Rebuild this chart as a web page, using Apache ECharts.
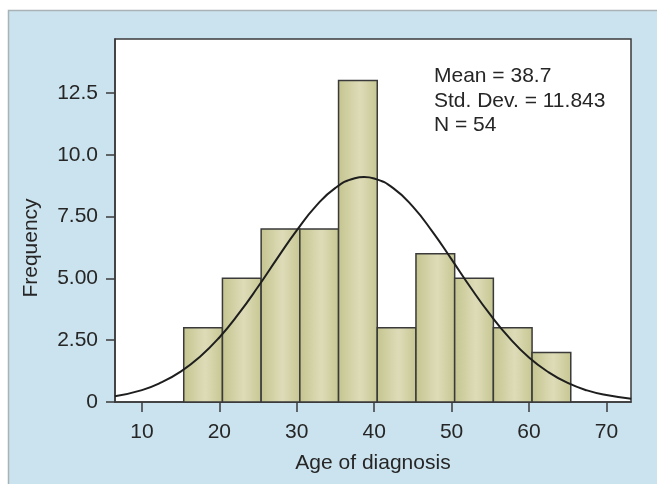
<!DOCTYPE html>
<html>
<head>
<meta charset="utf-8">
<script src="https://cdn.jsdelivr.net/npm/echarts@6/dist/echarts.min.js"></script>
<style>
html,body{margin:0;padding:0;background:#fff;}
#c{width:657px;height:484px;}
</style>
</head>
<body>
<div id="c"></div>
<script>
// Histogram bins (age of diagnosis) and frequencies
const binStarts = [15.4, 20.4, 25.4, 30.4, 35.4, 40.4, 45.4, 50.4, 55.4, 60.4];
const binEnds   = [20.4, 25.4, 30.4, 35.4, 40.4, 45.4, 50.4, 55.4, 60.4, 65.4];
const counts    = [3, 5, 7, 7, 13, 3, 6, 5, 3, 2];

// Fitted normal curve
const curveAges = [6.5, 10, 12.5, 15, 17.5, 20, 22.5, 25, 27.5, 30, 32.5, 35, 37.5, 38.7, 40, 42.5, 45, 47.5, 50, 52.5, 55, 57.5, 60, 62.5, 65, 67.5, 70, 73.2];
const curveFreq = [0.23, 0.48, 0.79, 1.23, 1.83, 2.61, 3.57, 4.66, 5.82, 6.94, 7.93, 8.66, 9.05, 9.10, 9.04, 8.64, 7.90, 6.90, 5.77, 4.61, 3.53, 2.58, 1.80, 1.21, 0.77, 0.47, 0.28, 0.13];

// Axis ticks
const xTickValues = [10, 20, 30, 40, 50, 60, 70];
const yTickValues = [0, 2.5, 5, 7.5, 10, 12.5];
const yTickLabels = ['0', '2.50', '5.00', '7.50', '10.0', '12.5'];

const statsLines = ['Mean = 38.7', 'Std. Dev. = 11.843', 'N = 54'];

const FONT = "'Liberation Sans', Arial, Helvetica, sans-serif";
const TXT = '#262626';
const chart = echarts.init(document.getElementById('c'), null, {renderer: 'canvas'});

const barData = binStarts.map((s, i) => [s, binEnds[i], counts[i]]);
const curveData = curveAges.map((a, i) => [a, curveFreq[i]]);

const barFill = new echarts.graphic.LinearGradient(0, 0, 1, 0, [
  {offset: 0, color: '#c4c48f'},
  {offset: 0.55, color: '#dedcb8'},
  {offset: 1, color: '#c6c692'}
]);

chart.setOption({
  animation: false,
  backgroundColor: '#ffffff',
  graphic: [
    {type: 'rect', z: -10, silent: true,
     shape: {x: 8.5, y: 10.5, width: 660, height: 480},
     style: {fill: '#cbe3ee', stroke: '#a9b2b6', lineWidth: 1.5}},
    {type: 'text', x: 31, y: 248, rotation: Math.PI / 2, z: 10,
     style: {text: 'Frequency', font: '21px ' + FONT, fill: TXT,
             textAlign: 'center', textVerticalAlign: 'middle'}},
    {type: 'text', left: 434, top: 64, z: 10,
     style: {text: statsLines.join('\n'), font: '21px ' + FONT, fill: TXT,
             lineHeight: 24.5}}
  ],
  grid: {
    left: 115, top: 39, right: 26, bottom: 82,
    show: true, backgroundColor: '#ffffff', borderColor: '#3a3a3a', borderWidth: 1.5
  },
  xAxis: {
    type: 'value', min: 6.52, max: 73.18,
    name: 'Age of diagnosis', nameLocation: 'middle', nameGap: 51,
    nameTextStyle: {fontSize: 21, fontFamily: FONT, color: TXT},
    axisLine: {show: true, onZero: false, lineStyle: {color: '#3a3a3a', width: 1.5}},
    axisTick: {show: true, length: 10, customValues: xTickValues, lineStyle: {color: '#3a3a3a', width: 1.5}},
    axisLabel: {customValues: xTickValues, margin: 20, fontSize: 21, fontFamily: FONT, color: TXT},
    splitLine: {show: false}
  },
  yAxis: {
    type: 'value', min: 0, max: 14.68,
    axisLine: {show: true, lineStyle: {color: '#3a3a3a', width: 1.5}},
    axisTick: {show: true, length: 9, customValues: yTickValues, lineStyle: {color: '#3a3a3a', width: 1.5}},
    axisLabel: {customValues: yTickValues, margin: 17, fontSize: 21, fontFamily: FONT, color: TXT,
      formatter: v => { const i = yTickValues.indexOf(v); return i >= 0 ? yTickLabels[i] : ''; }},
    splitLine: {show: false}
  },
  series: [
    {
      type: 'custom',
      data: barData,
      encode: {x: [0, 1], y: 2},
      renderItem: (params, api) => {
        const p0 = api.coord([api.value(0), 0]);
        const p1 = api.coord([api.value(1), api.value(2)]);
        return {
          type: 'rect',
          shape: {x: p0[0], y: p1[1], width: p1[0] - p0[0], height: p0[1] - p1[1]},
          style: {fill: barFill, stroke: '#3a3a3a', lineWidth: 1.5}
        };
      },
      z: 2
    },
    {
      type: 'line',
      data: curveData,
      smooth: true,
      showSymbol: false,
      lineStyle: {color: '#1e1e1e', width: 2},
      clip: true,
      z: 3
    }
  ]
});
</script>
</body>
</html>
